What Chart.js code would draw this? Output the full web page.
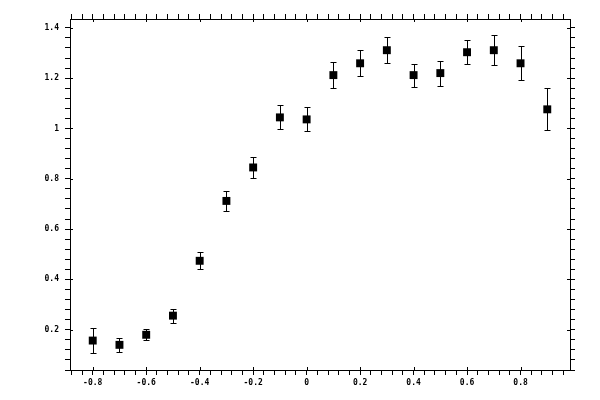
<!DOCTYPE html>
<html>
<head>
<meta charset="utf-8">
<script src="https://cdn.jsdelivr.net/npm/chart.js@4/dist/chart.umd.min.js"></script>
<style>
    html, body { margin: 0; padding: 0; background: #fff; }
    #wrap { width: 600px; height: 400px; }
</style>
</head>
<body>
<div id="wrap"><canvas id="myChart" width="600" height="400"></canvas></div>
<script>
// data
var xValues = [-0.8, -0.7, -0.6, -0.5, -0.4, -0.3, -0.2, -0.1, 0, 0.1, 0.2, 0.3, 0.4, 0.5, 0.6, 0.7, 0.8, 0.9];
var yValues = [0.157, 0.140, 0.180, 0.256, 0.474, 0.712, 0.845, 1.044, 1.036, 1.212, 1.259, 1.311, 1.212, 1.220, 1.303, 1.311, 1.259, 1.076];
var yErrors = [0.050, 0.029, 0.021, 0.028, 0.034, 0.040, 0.043, 0.048, 0.048, 0.052, 0.051, 0.051, 0.046, 0.050, 0.048, 0.060, 0.068, 0.083];
var xRange = [-0.885, 0.985];
var yRange = [0.04, 1.435];
var majorStep = 0.2;
var minorStep = 0.04;

function isMajor(v) {
    var q = v / majorStep;
    return Math.abs(q - Math.round(q)) < 1e-6;
}

function tickLabel(v) {
    if (!isMajor(v)) return '';
    return String(Number(v.toFixed(1)));
}

var points = [];
for (var i = 0; i < xValues.length; i++) {
    points.push({ x: xValues[i], y: yValues[i], e: yErrors[i] });
}

// error bars drawn with the chart's own scales
var errorBars = {
    id: 'errorBars',
    afterDatasetsDraw: function (chart) {
        var ctx = chart.ctx;
        var sx = chart.scales.x;
        var sy = chart.scales.y;
        ctx.save();
        ctx.strokeStyle = '#000';
        ctx.lineWidth = 1;
        chart.data.datasets[0].data.forEach(function (p) {
            var px = Math.round(sx.getPixelForValue(p.x)) + 0.5;
            var top = Math.round(sy.getPixelForValue(p.y + p.e)) + 0.5;
            var bot = Math.round(sy.getPixelForValue(p.y - p.e)) + 0.5;
            ctx.beginPath();
            ctx.moveTo(px, top); ctx.lineTo(px, bot);
            ctx.moveTo(px - 3, top); ctx.lineTo(px + 3, top);
            ctx.moveTo(px - 3, bot); ctx.lineTo(px + 3, bot);
            ctx.stroke();
        });
        ctx.restore();
    }
};

// major ticks also poke a little into the plot
var innerTicks = {
    id: 'innerTicks',
    afterDraw: function (chart) {
        var ctx = chart.ctx;
        var a = chart.chartArea;
        var len = 3;
        ctx.save();
        ctx.strokeStyle = '#000';
        ctx.lineWidth = 1;
        ctx.beginPath();
        chart.scales.x.ticks.forEach(function (t) {
            if (!isMajor(t.value)) return;
            var px = Math.round(chart.scales.x.getPixelForValue(t.value)) + 0.5;
            ctx.moveTo(px, a.bottom); ctx.lineTo(px, a.bottom - len);
            ctx.moveTo(px, a.top); ctx.lineTo(px, a.top + len);
        });
        chart.scales.y.ticks.forEach(function (t) {
            if (!isMajor(t.value)) return;
            var py = Math.round(chart.scales.y.getPixelForValue(t.value)) + 0.5;
            ctx.moveTo(a.left, py); ctx.lineTo(a.left + len, py);
            ctx.moveTo(a.right, py); ctx.lineTo(a.right - len, py);
        });
        ctx.stroke();
        ctx.restore();
    }
};

function axis(pos, range, size, showLabels) {
    return {
        type: 'linear',
        position: pos,
        min: range[0],
        max: range[1],
        grid: { drawOnChartArea: false, drawTicks: true, tickLength: 5, color: '#000', lineWidth: 1 },
        border: { display: true, color: '#000', width: 1 },
        ticks: {
            display: showLabels,
            stepSize: minorStep,
            includeBounds: false,
            autoSkip: false,
            maxRotation: 0,
            minRotation: 0,
            padding: (pos == 'left' ? 6 : 3),
            color: '#000',
            font: { family: 'DejaVu Sans Mono', size: 8, weight: 'bold' },
            callback: function (v) { return tickLabel(v); }
        },
        afterFit: function (scale) {
            if (pos == 'left' || pos == 'right') scale.width = size;
            else scale.height = size;
        }
    };
}

new Chart("myChart", {
    type: "scatter",
    data: {
        datasets: [{
            data: points,
            pointStyle: 'rect',
            pointRadius: 5.6,
            pointHoverRadius: 5.6,
            backgroundColor: '#000',
            borderColor: '#000',
            borderWidth: 0
        }]
    },
    options: {
        responsive: false,
        animation: false,
        devicePixelRatio: 1,
        layout: { padding: 0 },
        plugins: {
            legend: { display: false },
            tooltip: { enabled: false }
        },
        scales: {
            x: axis('bottom', xRange, 30, true),
            x2: axis('top', xRange, 19, false),
            y: axis('left', yRange, 70, true),
            y2: axis('right', yRange, 30, false)
        }
    },
    plugins: [errorBars, innerTicks]
});
</script>
</body>
</html>
